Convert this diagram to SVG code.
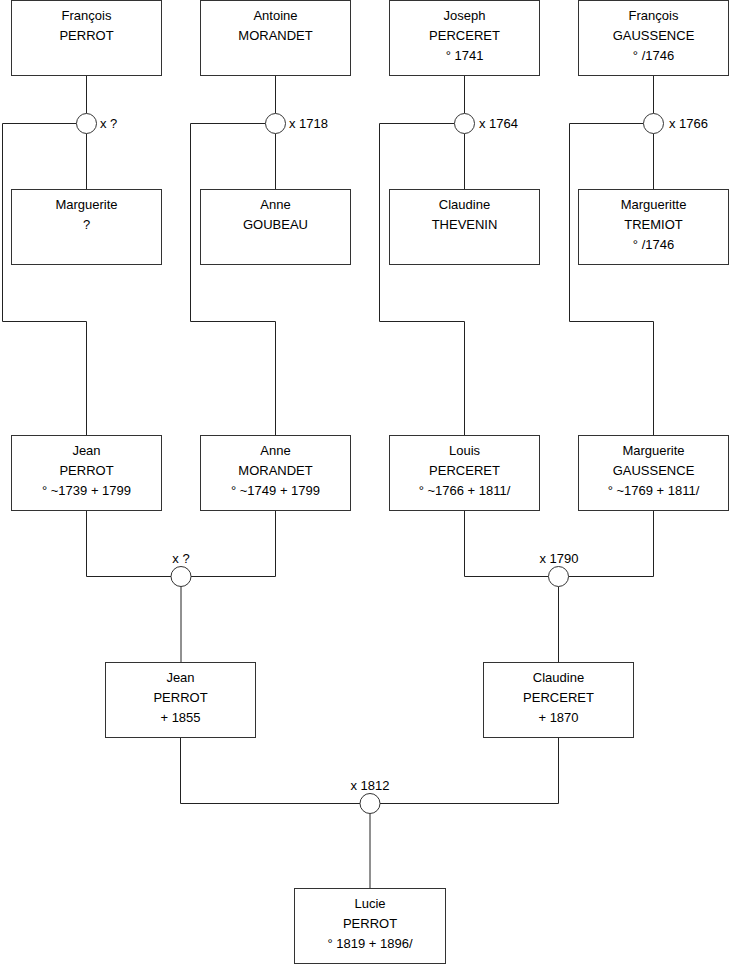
<svg xmlns="http://www.w3.org/2000/svg" width="740" height="975" viewBox="0 0 740 975">
<style>
.box{fill:#fff;stroke:#333;stroke-width:1}
.ln{fill:none;stroke:#222;stroke-width:1}
.mc{fill:#fff;stroke:#333;stroke-width:1}
text{font-family:"Liberation Sans",Arial,sans-serif;font-size:13px;fill:#000}
.c{text-anchor:middle}
</style>
<rect width="740" height="975" fill="#fff"/>
<g id="connectors">
<path class="ln" d="M86.5,76V113.5M86.5,133.5V189M76.5,123.5H2.5V321.5H86.5V435"/>
<path class="ln" d="M275.5,76V113.5M275.5,133.5V189M265.5,123.5H190.5V321.5H275.5V435"/>
<path class="ln" d="M464.5,76V113.5M464.5,133.5V189M454.5,123.5H379.5V321.5H464.5V435"/>
<path class="ln" d="M653.5,76V113.5M653.5,133.5V189M643.5,123.5H569.5V321.5H653.5V435"/>
<path class="ln" d="M86.5,510V576.5H171M191,576.5H275.5V510M181,586.5V662"/>
<path class="ln" d="M464.5,510V576.5H548.5M568.5,576.5H653.5V510M558.5,586.5V662"/>
<path class="ln" d="M180.5,737V803.5H360M380,803.5H558.5V737M370,813.5V888"/>
<circle class="mc" cx="86.5" cy="123.5" r="10"/>
<circle class="mc" cx="275.5" cy="123.5" r="10"/>
<circle class="mc" cx="464.5" cy="123.5" r="10"/>
<circle class="mc" cx="653.5" cy="123.5" r="10"/>
<circle class="mc" cx="181" cy="576.5" r="10"/>
<circle class="mc" cx="558.5" cy="576.5" r="10"/>
<circle class="mc" cx="370" cy="803.5" r="10"/>
<text x="100" y="128">x ?</text>
<text x="289" y="128">x 1718</text>
<text x="479" y="128">x 1764</text>
<text x="669" y="128">x 1766</text>
<text class="c" x="181" y="563">x ?</text>
<text class="c" x="559" y="563">x 1790</text>
<text class="c" x="370" y="790">x 1812</text>
</g>
<g id="francois-perrot"><rect class="box" x="11.5" y="0.5" width="150" height="75"/><text class="c" x="86.5" y="20">François</text><text class="c" x="86.5" y="40">PERROT</text></g>
<g id="antoine-morandet"><rect class="box" x="200.5" y="0.5" width="150" height="75"/><text class="c" x="275.5" y="20">Antoine</text><text class="c" x="275.5" y="40">MORANDET</text></g>
<g id="joseph-perceret"><rect class="box" x="389.5" y="0.5" width="150" height="75"/><text class="c" x="464.5" y="20">Joseph</text><text class="c" x="464.5" y="40">PERCERET</text><text class="c" x="464.5" y="60">° 1741</text></g>
<g id="francois-gaussence"><rect class="box" x="578.5" y="0.5" width="150" height="75"/><text class="c" x="653.5" y="20">François</text><text class="c" x="653.5" y="40">GAUSSENCE</text><text class="c" x="653.5" y="60">° /1746</text></g>
<g id="marguerite"><rect class="box" x="11.5" y="189.5" width="150" height="75"/><text class="c" x="86.5" y="209">Marguerite</text><text class="c" x="86.5" y="229">?</text></g>
<g id="anne-goubeau"><rect class="box" x="200.5" y="189.5" width="150" height="75"/><text class="c" x="275.5" y="209">Anne</text><text class="c" x="275.5" y="229">GOUBEAU</text></g>
<g id="claudine-thevenin"><rect class="box" x="389.5" y="189.5" width="150" height="75"/><text class="c" x="464.5" y="209">Claudine</text><text class="c" x="464.5" y="229">THEVENIN</text></g>
<g id="margueritte-tremiot"><rect class="box" x="578.5" y="189.5" width="150" height="75"/><text class="c" x="653.5" y="209">Margueritte</text><text class="c" x="653.5" y="229">TREMIOT</text><text class="c" x="653.5" y="249">° /1746</text></g>
<g id="jean-perrot-1739"><rect class="box" x="11.5" y="435.5" width="150" height="75"/><text class="c" x="86.5" y="455">Jean</text><text class="c" x="86.5" y="475">PERROT</text><text class="c" x="86.5" y="495">° ~1739 + 1799</text></g>
<g id="anne-morandet"><rect class="box" x="200.5" y="435.5" width="150" height="75"/><text class="c" x="275.5" y="455">Anne</text><text class="c" x="275.5" y="475">MORANDET</text><text class="c" x="275.5" y="495">° ~1749 + 1799</text></g>
<g id="louis-perceret"><rect class="box" x="389.5" y="435.5" width="150" height="75"/><text class="c" x="464.5" y="455">Louis</text><text class="c" x="464.5" y="475">PERCERET</text><text class="c" x="464.5" y="495">° ~1766 + 1811/</text></g>
<g id="marguerite-gaussence"><rect class="box" x="578.5" y="435.5" width="150" height="75"/><text class="c" x="653.5" y="455">Marguerite</text><text class="c" x="653.5" y="475">GAUSSENCE</text><text class="c" x="653.5" y="495">° ~1769 + 1811/</text></g>
<g id="jean-perrot-1855"><rect class="box" x="105.5" y="662.5" width="150" height="75"/><text class="c" x="180.5" y="682">Jean</text><text class="c" x="180.5" y="702">PERROT</text><text class="c" x="180.5" y="722">+ 1855</text></g>
<g id="claudine-perceret"><rect class="box" x="483.5" y="662.5" width="150" height="75"/><text class="c" x="558.5" y="682">Claudine</text><text class="c" x="558.5" y="702">PERCERET</text><text class="c" x="558.5" y="722">+ 1870</text></g>
<g id="lucie-perrot"><rect class="box" x="294.5" y="888.5" width="151" height="75"/><text class="c" x="370" y="908">Lucie</text><text class="c" x="370" y="928">PERROT</text><text class="c" x="370" y="948">° 1819 + 1896/</text></g>
</svg>
